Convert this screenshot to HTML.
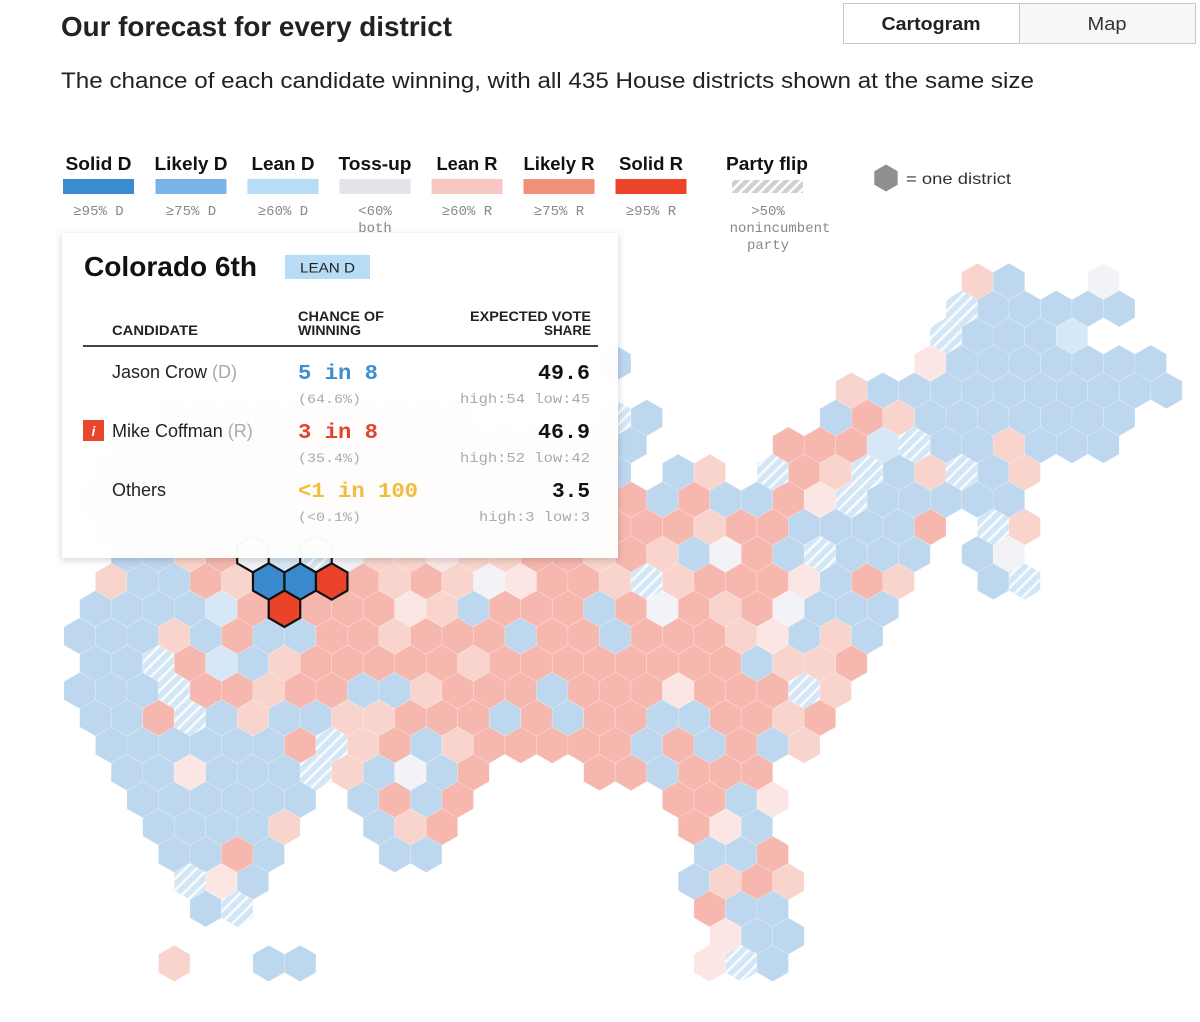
<!DOCTYPE html>
<html><head><meta charset="utf-8">
<style>
html,body{margin:0;padding:0;background:#fff;}
body{width:1200px;height:1022px;overflow:hidden;position:relative;font-family:"Liberation Sans",sans-serif;}
svg{position:absolute;left:0;top:0;}
.mono{font-family:"Liberation Mono",monospace;}
</style></head>
<body>
<svg id="chart" width="1200" height="1022" viewBox="0 0 1200 1022">
  <defs>
    <pattern id="hatchBlue" patternUnits="userSpaceOnUse" width="8" height="8" patternTransform="rotate(45)">
      <rect width="8" height="8" fill="#d3e6f6"/><rect x="0" width="2.6" height="8" fill="#ffffff" opacity="0.85"/>
    </pattern>
    <pattern id="hatchGray" patternUnits="userSpaceOnUse" width="7" height="7" patternTransform="rotate(45)">
      <rect width="7" height="7" fill="#d0d0d0"/><rect x="0" width="2.5" height="7" fill="#ffffff"/>
    </pattern>
    <filter id="shadow" x="-5%" y="-5%" width="110%" height="115%">
      <feDropShadow dx="0" dy="2" stdDeviation="4" flood-color="#000" flood-opacity="0.18"/>
    </filter>
  </defs>

  <text x="61" y="36" font-size="28" font-weight="bold" fill="#222" textLength="391" lengthAdjust="spacingAndGlyphs">Our forecast for every district</text>
  <text x="61" y="88" font-size="22" fill="#222" textLength="973" lengthAdjust="spacingAndGlyphs">The chance of each candidate winning, with all 435 House districts shown at the same size</text>

  <g>
    <rect x="843.5" y="3.5" width="176" height="40" fill="#fff" stroke="#c8c8c8"/>
    <rect x="1019.5" y="3.5" width="176" height="40" fill="#f7f7f7" stroke="#c8c8c8"/>
    <text x="931" y="30" font-size="18" font-weight="bold" fill="#222" text-anchor="middle" textLength="99" lengthAdjust="spacingAndGlyphs">Cartogram</text>
    <text x="1107" y="30" font-size="18" fill="#333" text-anchor="middle" textLength="39" lengthAdjust="spacingAndGlyphs">Map</text>
  </g>

  <g id="legend"></g>
  <g id="hexes"></g>
  <g id="hexesCO"></g>

  <g>
    <rect x="62" y="233" width="556" height="325" fill="#ffffff" fill-opacity="0.97" filter="url(#shadow)"/>
    <text x="84" y="276" font-size="28" font-weight="bold" fill="#111" textLength="173" lengthAdjust="spacingAndGlyphs">Colorado 6th</text>
    <rect x="285" y="255" width="85" height="24" fill="#b8dcf5"/>
    <text x="327.5" y="272.5" font-size="14" fill="#222" text-anchor="middle" textLength="55" lengthAdjust="spacingAndGlyphs">LEAN D</text>

    <text x="112" y="335" font-size="13.5" font-weight="bold" fill="#222" textLength="86" lengthAdjust="spacingAndGlyphs">CANDIDATE</text>
    <text x="298" y="321" font-size="13.5" font-weight="bold" fill="#222" textLength="86" lengthAdjust="spacingAndGlyphs">CHANCE OF</text>
    <text x="298" y="335" font-size="13.5" font-weight="bold" fill="#222" textLength="63" lengthAdjust="spacingAndGlyphs">WINNING</text>
    <text x="591" y="321" font-size="13.5" font-weight="bold" fill="#222" text-anchor="end" textLength="121" lengthAdjust="spacingAndGlyphs">EXPECTED VOTE</text>
    <text x="591" y="335" font-size="13.5" font-weight="bold" fill="#222" text-anchor="end" textLength="47" lengthAdjust="spacingAndGlyphs">SHARE</text>
    <rect x="83" y="345" width="515" height="2" fill="#444"/>

    <text x="112" y="378" font-size="18" fill="#222">Jason Crow <tspan fill="#aaa">(D)</tspan></text>
    <text x="298" y="379" font-size="21" font-weight="bold" fill="#3a8fd3" class="mono" textLength="80" lengthAdjust="spacingAndGlyphs">5 in 8</text>
    <text x="298" y="403" font-size="13" fill="#aaa" class="mono" textLength="63" lengthAdjust="spacingAndGlyphs">(64.6%)</text>
    <text x="590" y="379" font-size="21" font-weight="bold" fill="#111" class="mono" text-anchor="end" textLength="52" lengthAdjust="spacingAndGlyphs">49.6</text>
    <text x="590" y="403" font-size="14" fill="#aaa" class="mono" text-anchor="end" textLength="130" lengthAdjust="spacingAndGlyphs">high:54 low:45</text>

    <rect x="83" y="420" width="21" height="21" fill="#e8462d"/>
    <text x="93.5" y="436" font-size="14" font-weight="bold" font-style="italic" fill="#fff" text-anchor="middle">i</text>
    <text x="112" y="437" font-size="18" fill="#222">Mike Coffman <tspan fill="#aaa">(R)</tspan></text>
    <text x="298" y="438" font-size="21" font-weight="bold" fill="#e3432c" class="mono" textLength="80" lengthAdjust="spacingAndGlyphs">3 in 8</text>
    <text x="298" y="462" font-size="13" fill="#aaa" class="mono" textLength="63" lengthAdjust="spacingAndGlyphs">(35.4%)</text>
    <text x="590" y="438" font-size="21" font-weight="bold" fill="#111" class="mono" text-anchor="end" textLength="52" lengthAdjust="spacingAndGlyphs">46.9</text>
    <text x="590" y="462" font-size="14" fill="#aaa" class="mono" text-anchor="end" textLength="130" lengthAdjust="spacingAndGlyphs">high:52 low:42</text>

    <text x="112" y="496" font-size="18" fill="#222">Others</text>
    <text x="298" y="497" font-size="21" font-weight="bold" fill="#f1bd3d" class="mono" textLength="120" lengthAdjust="spacingAndGlyphs">&lt;1 in 100</text>
    <text x="298" y="521" font-size="13" fill="#aaa" class="mono" textLength="63" lengthAdjust="spacingAndGlyphs">(&lt;0.1%)</text>
    <text x="590" y="497" font-size="21" font-weight="bold" fill="#111" class="mono" text-anchor="end" textLength="38" lengthAdjust="spacingAndGlyphs">3.5</text>
    <text x="590" y="521" font-size="14" fill="#aaa" class="mono" text-anchor="end" textLength="111" lengthAdjust="spacingAndGlyphs">high:3 low:3</text>
  </g>
</svg>

<script>
const legendLabels = ["Solid D","Likely D","Lean D","Toss-up","Lean R","Likely R","Solid R"];
const legendRanges = ["≥95% D","≥75% D","≥60% D","<60%","≥60% R","≥75% R","≥95% R"];
const legendColors = ["#3b8bd0","#78b4e6","#b6dcf6","#e6e2ea","#f7c8c3","#f18f79","#ed4328"];
const legendCenters = [98.5,191,283,375,467,559,651];

const rowStart = [28,28,27,17,24,3,1,1,0,1,1,1,0,0,0,0,0,1,1,2,2,3,3,4,20,3];
const rowCodes = [
 "rB..w",
 "hBBBBB",
 "hBBBb",
 "B.........pBBBBBBB",
 "rBBBBBBBBBB",
 "BBBrRRRRrB....hB.....BRrBBBBBBB",
 "BBBrRRRRRRRrRRRRB....RRRbhBBrBBB",
 "BBBrRRRRRrRRRRRRB.Br.hRrhBrhBr",
 "BBBBRRRRRRRrRRRRRRBRBBRphBBBBB",
 "BBBBRRRRRrRRRRRRRRRrRRBBBBR.hr",
 "BBrRwbhwrrprrRRrRrBwRBhBBB.Bw",
 "rBBRrDDXRrRrwpRRrhrRRRpBRr..Bh",
 "BBBBbRXRRRprBRRRBRwRrRwBBB",
 "BBBrBRBBRRrRRRBRRBRRRrpBrB",
 "BBhRbBrRRRRRrRRRRRRRRBrrR",
 "BBBhRRrRRBBrRRRBRRRpRRRhr",
 "BBRhBrBBrrRRRBRBRRBBRRrR",
 "BBBBBBRhrRBrRRRRRBRBRBr",
 "BBpBBBhrBwBR...RRBRRR",
 "BBBBBB.BRBR......RRBp",
 "BBBBr..BrR.......RpB",
 "BBRB...BB........BBR",
 "hpB.............BrRr",
 "Bh..............RBB",
 "pBB",
 "r..BB............phB"
];
const coloradoRows = [10,10,11,11,11,12];
const coloradoCols = [5,7,6,7,8,6];

const codeFill = {B:"#bdd7ee", b:"#d6e8f7", R:"#f5b7ae", r:"#f8d4cc", p:"#fbe6e4", w:"#f3f2f6", D:"#3a89cd", X:"#e9432a", h:"url(#hatchBlue)"};
const codeName = {B:"likely-d", b:"lean-d", R:"likely-r", r:"lean-r", p:"tossup-r", w:"tossup", D:"solid-d", X:"solid-r", h:"party-flip"};

const HEX_W = 31.5, ROW_H = HEX_W*Math.sqrt(3)/2, X0 = 79.7, Y0 = 281.4;
function xPos(col,row){ return X0 + col*HEX_W + (row%2===0 ? HEX_W/2 : 0); }
function yPos(row){ return Y0 + row*ROW_H; }
function hexPoints(cx,cy){
  const r = HEX_W/Math.sqrt(3); const pts=[];
  for(let i=0;i<6;i++){ const a=Math.PI/180*(60*i-90); pts.push((cx+r*Math.cos(a)).toFixed(2)+","+(cy+r*Math.sin(a)).toFixed(2)); }
  return pts.join(" ");
}
const NS="http://www.w3.org/2000/svg";

const lg=document.getElementById("legend");
function addText(parent,x,y,txt,size,opts){
  const t=document.createElementNS(NS,"text");
  t.setAttribute("x",x); t.setAttribute("y",y); t.setAttribute("font-size",size);
  for(const k in opts) t.setAttribute(k,opts[k]);
  t.textContent=txt; parent.appendChild(t); return t;
}
const labelWidths=[66,73,63,73,61,71,64];
legendLabels.forEach((lab,i)=>{
  const cx=legendCenters[i];
  const g=document.createElementNS(NS,"g");
  
  
  const t=addText(g,cx,170,lab,18,{"font-weight":"bold","fill":"#111","text-anchor":"middle","textLength":labelWidths[i],"lengthAdjust":"spacingAndGlyphs"});
  
  
  const r=document.createElementNS(NS,"rect");
  r.setAttribute("x",cx-35.5); r.setAttribute("y",179); r.setAttribute("width",71); r.setAttribute("height",15); r.setAttribute("fill",legendColors[i]);
  
  
  g.appendChild(r);
  const s=addText(g,cx,215,legendRanges[i],14,{"fill":"#888","text-anchor":"middle","class":"mono"});
  
  
  if(i===3){
    const s2=addText(g,cx,232,"both",14,{"fill":"#888","text-anchor":"middle","class":"mono"});
    
    
  }
  lg.appendChild(g);
});
(function(){
  const g=document.createElementNS(NS,"g");
  
  
  const t=addText(g,767,170,"Party flip",18,{"font-weight":"bold","fill":"#111","text-anchor":"middle","textLength":82,"lengthAdjust":"spacingAndGlyphs"});
  
  
  const r=document.createElementNS(NS,"rect");
  r.setAttribute("x",732); r.setAttribute("y",180); r.setAttribute("width",71); r.setAttribute("height",13); r.setAttribute("fill","url(#hatchGray)");
  
  
  g.appendChild(r);
  [[">50%",215],["nonincumbent",232],["party",249]].forEach(([s,y])=>{
    const e=addText(g,y===232?780:768,y,s,14,{"fill":"#888","text-anchor":"middle","class":"mono"});
    
    
  });
  const hx=document.createElementNS(NS,"polygon");
  const pts=[]; for(let i=0;i<6;i++){const a=Math.PI/180*(60*i-90); pts.push((886+13.5*Math.cos(a))+","+(178+13.5*Math.sin(a)));}
  hx.setAttribute("points",pts.join(" ")); hx.setAttribute("fill","#8f8f8f");
  
  
  g.appendChild(hx);
  const d=addText(g,906,184,"= one district",16,{"fill":"#333","textLength":105,"lengthAdjust":"spacingAndGlyphs"});
  
  
  lg.appendChild(g);
})();

const hg=document.getElementById("hexes");
const isCO=(row,col)=>coloradoRows.some((r,i)=>r===row&&coloradoCols[i]===col);
rowCodes.forEach((codes,row)=>{
  for(let k=0;k<codes.length;k++){
    const code=codes[k]; if(code===".") continue;
    const col=rowStart[row]+k;
    const p=document.createElementNS(NS,"polygon");
    p.setAttribute("points",hexPoints(xPos(col,row),yPos(row)));
    p.setAttribute("fill",codeFill[code]);
    
    
    if(isCO(row,col)){
      p.setAttribute("stroke","#111"); p.setAttribute("stroke-width","2.2");
      document.getElementById("hexesCO").appendChild(p);
    } else {
      p.setAttribute("stroke","#ffffff"); p.setAttribute("stroke-opacity","0.35"); p.setAttribute("stroke-width","0.6");
      hg.appendChild(p);
    }
  }
});
</script>
</body></html>
